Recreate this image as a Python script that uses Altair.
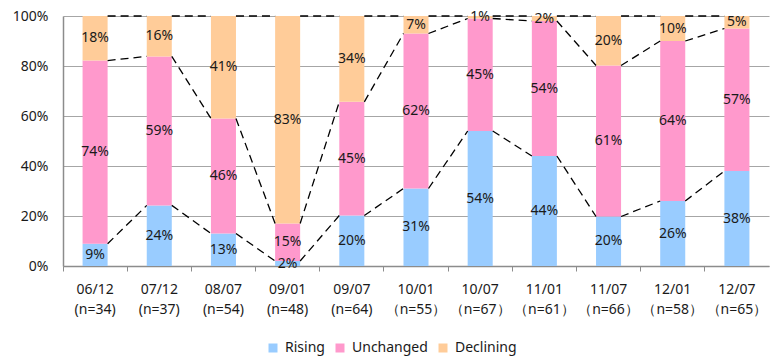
import altair as alt
import pandas as pd

# Survey periods, sample sizes and answer shares (%)
periods = ["06/12", "07/12", "08/07", "09/01", "09/07", "10/01",
           "10/07", "11/01", "11/07", "12/01", "12/07"]
sizes = ["(n=34)", "(n=37)", "(n=54)", "(n=48)", "(n=64)", "（n=55）",
         "（n=67）", "（n=61）", "（n=66）", "（n=58）", "（n=65）"]
rising = [9, 24, 13, 2, 20, 31, 54, 44, 20, 26, 38]
unchanged = [74, 59, 46, 15, 45, 62, 45, 54, 61, 64, 57]
declining = [18, 16, 41, 83, 34, 7, 1, 2, 20, 10, 5]

series = ["Rising", "Unchanged", "Declining"]
colors = ["#99CCFF", "#FF99CC", "#FFCC99"]

FONT = "Noto Sans"
PLOT_W, PLOT_H = 706, 250
BAND = 0.39                      # bar width as a share of the category step
HALF_BAR = PLOT_W / len(periods) * BAND / 2

cats = [f"{p}|{n}" for p, n in zip(periods, sizes)]

rows = []
for i, c in enumerate(cats):
    for k, vals in enumerate([rising, unchanged, declining]):
        rows.append({"cat": c, "series": series[k], "order": k, "value": vals[i]})
df = pd.DataFrame(rows)

# Series lines joining the cumulative shares of neighbouring columns
def cumulative(i):
    tot = rising[i] + unchanged[i] + declining[i]
    return [rising[i] / tot, (rising[i] + unchanged[i]) / tot, 1.0]

seg = []
for i in range(len(cats) - 1):
    a, b = cumulative(i), cumulative(i + 1)
    for k in range(3):
        seg.append({"cat": cats[i], "cat2": cats[i + 1], "y": a[k], "y2": b[k]})
seg_df = pd.DataFrame(seg)

x_scale = alt.Scale(domain=cats, paddingInner=0, paddingOuter=0)
y_scale = alt.Scale(domain=[0, 1])

base = alt.Chart(df).transform_stack(
    stack="value", groupby=["cat"], sort=[alt.SortField("order")],
    offset="normalize", as_=["y0", "y1"]
).transform_calculate(
    mid="(datum.y0 + datum.y1) / 2",
    label="datum.value + '%'"
)

bars = base.mark_bar(width=alt.RelativeBandSize(BAND)).encode(
    x=alt.X("cat:N", scale=x_scale, sort=cats, title=None,
            axis=alt.Axis(labelExpr="split(datum.label, '|')", labelAngle=0,
                          labelFont=FONT, labelFontSize=14, labelColor="#1a1a1a",
                          labelLineHeight=20, labelPadding=11, labelBaseline="top",
                          bandPosition=0,
                          ticks=True, tickSize=5, tickColor="#8c8c8c",
                          domainColor="#8c8c8c", domainWidth=1.5, grid=False)),
    y=alt.Y("y0:Q", scale=y_scale, title=None,
            axis=alt.Axis(values=[0, 0.2, 0.4, 0.6, 0.8, 1.0], format=".0%",
                          labelFont=FONT, labelFontSize=14, labelColor="#1a1a1a",
                          labelPadding=15, ticks=False, domainColor="#8c8c8c",
                          domainWidth=1.5, gridColor="#a6a6a6", gridWidth=1.2)),
    y2="y1:Q",
    color=alt.Color("series:N", scale=alt.Scale(domain=series, range=colors),
                    legend=alt.Legend(title=None, orient="none", direction="horizontal",
                                      legendX=203, legendY=325, symbolType="square",
                                      symbolSize=81, symbolStrokeWidth=0,
                                      labelFont=FONT, labelFontSize=14,
                                      labelColor="#1a1a1a", labelOffset=5,
                                      columnPadding=8)),
    order=alt.Order("order:Q"),
)

texts = base.mark_text(font=FONT, fontSize=14, color="#1a1a1a", baseline="middle").encode(
    x=alt.X("cat:N", scale=x_scale, sort=cats),
    y=alt.Y("mid:Q", scale=y_scale),
    text="label:N",
)

lines = alt.Chart(seg_df).mark_rule(
    color="black", strokeWidth=1.3, strokeDash=[8, 5],
    xOffset=HALF_BAR, x2Offset=-HALF_BAR
).encode(
    x=alt.X("cat:N", scale=x_scale, sort=cats),
    x2="cat2:N",
    y=alt.Y("y:Q", scale=y_scale),
    y2="y2:Q",
)

chart = alt.layer(bars, lines, texts).properties(
    width=PLOT_W, height=PLOT_H,
    autosize=alt.AutoSizeParams(type="none"),
    padding={"left": 63, "top": 16, "right": 1, "bottom": 92},
    background="white",
).configure_view(stroke=None)

chart.save("out.html", embed_options={"renderer": "svg", "actions": False})
